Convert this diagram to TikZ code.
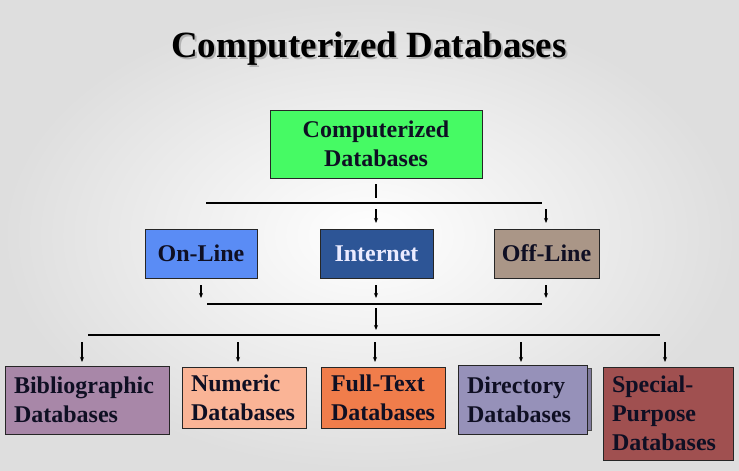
\documentclass[tikz,border=0pt]{standalone}
\usepackage{fontspec}
\setmainfont{Liberation Serif}[BoldFont={Liberation Serif Bold}]
\usetikzlibrary{arrows.meta,shadings}
\definecolor{cgreen}{RGB}{70,250,100}
\definecolor{conline}{RGB}{90,140,245}
\definecolor{cinternet}{RGB}{45,85,150}
\definecolor{coffline}{RGB}{170,150,135}
\definecolor{cbiblio}{RGB}{168,135,168}
\definecolor{cnumeric}{RGB}{250,180,150}
\definecolor{cfull}{RGB}{240,125,75}
\definecolor{cdir}{RGB}{150,145,185}
\definecolor{cspecial}{RGB}{160,80,80}
\definecolor{ctext}{RGB}{15,15,35}
\tikzset{
  box/.style={draw=black!85, line width=1pt, inner sep=0pt, text=ctext,
    font=\bfseries\fontsize{24}{29}\selectfont},
  cbox/.style={box, align=center},
  lbox/.style={box, align=left, inner xsep=9pt},
  link/.style={line width=1.1pt, black},
  arr/.style={line width=1.1pt, black, -{Stealth[length=5pt,width=4pt]}},
}
\begin{document}
\begin{tikzpicture}[x=1pt,y=-1pt]
\useasboundingbox (0,0) rectangle (739,471);
\shade[inner color=white, outer color=black!13] (0,0) rectangle (739,471);
% title
\node[anchor=base, text=black!30, font=\bfseries\fontsize{37}{40}\selectfont] at (371,59) {Computerized Databases};
\node[anchor=base, text=black, font=\bfseries\fontsize{37}{40}\selectfont] (title) at (369,57) {Computerized Databases};
% top
\node[cbox, fill=cgreen, minimum width=212, minimum height=68] (top) at (376,144) {Computerized\\Databases};
% middle row
\node[cbox, fill=conline, minimum width=112, minimum height=49] (online) at (201,253.5) {On-Line};
\node[cbox, fill=cinternet, text=white!92!blue, minimum width=113, minimum height=49] (internet) at (376.5,253.5) {Internet};
\node[cbox, fill=coffline, minimum width=105, minimum height=49] (offline) at (546.5,253.5) {Off-Line};
% bottom row
\node[lbox, fill=cbiblio, text width=146, minimum height=68] (biblio) at (87,400) {Bibliographic\\Databases};
\node[lbox, fill=cnumeric, text width=106, minimum height=61] (numeric) at (244,397.5) {Numeric\\Databases};
\node[lbox, fill=cfull, inner xsep=10pt, text width=104, minimum height=61] (full) at (383,397.5) {Full-Text\\Databases};
\fill[cdir!85!black, draw=black!70, line width=0.8pt] (462,368) rectangle (591,430);
\node[lbox, fill=cdir, text width=111, minimum height=69] (dir) at (522.5,399.5) {Directory\\Databases};
\node[lbox, fill=cspecial, text width=112, minimum height=93] (special) at (668,413.5) {Special-\\Purpose\\Databases};
% connectors level 1
\coordinate (s1) at (376,184);
\coordinate (s2) at (376,198);
\coordinate (h1l) at (206,203);
\coordinate (h1r) at (542,203);
\draw[link] (s1) -- (s2);
\draw[link] (h1l) -- (h1r);
\coordinate (a1) at (376,209);
\coordinate (a1e) at (376,223);
\coordinate (a2) at (546,209);
\coordinate (a2e) at (546,223);
\draw[arr] (a1) -- (a1e);
\draw[arr] (a2) -- (a2e);
% connectors level 2
\coordinate (b1) at (201,285);
\coordinate (b1e) at (201,298);
\coordinate (b2) at (376,285);
\coordinate (b2e) at (376,298);
\coordinate (b3) at (546,285);
\coordinate (b3e) at (546,298);
\draw[arr] (b1) -- (b1e);
\draw[arr] (b2) -- (b2e);
\draw[arr] (b3) -- (b3e);
\coordinate (h2l) at (207,304);
\coordinate (h2r) at (542,304);
\draw[link] (h2l) -- (h2r);
\coordinate (c1) at (376,308);
\coordinate (c1e) at (376,330);
\draw[arr] (c1) -- (c1e);
\coordinate (h3l) at (88,335);
\coordinate (h3r) at (660,335);
\draw[link] (h3l) -- (h3r);
% connectors level 3
\coordinate (d1) at (82,342);
\coordinate (d2) at (238,342);
\coordinate (d3) at (375,342);
\coordinate (d4) at (521,342);
\coordinate (d5) at (665,342);
\draw[arr] (d1) -- (d1 |- 0,362);
\draw[arr] (d2) -- (d2 |- 0,362);
\draw[arr] (d3) -- (d3 |- 0,362);
\draw[arr] (d4) -- (d4 |- 0,362);
\draw[arr] (d5) -- (d5 |- 0,362);
\end{tikzpicture}
\end{document}
